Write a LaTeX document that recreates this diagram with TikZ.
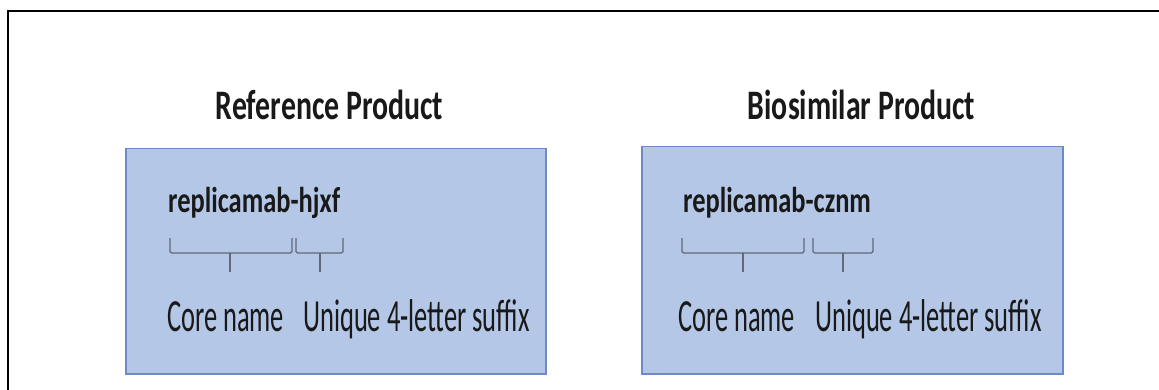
\documentclass[tikz,border=0pt]{standalone}
\usepackage{fontspec}
\setmainfont{Carlito}
\newfontfamily\titlefont[FakeStretch=0.71]{Carlito}
\newfontfamily\namefont[FakeStretch=0.735]{Carlito}
\newfontfamily\partfont[FakeStretch=0.575]{Carlito}
\usepackage{tikz}
\usetikzlibrary{positioning}

\definecolor{boxblue}{RGB}{180,199,231}
\definecolor{boxline}{RGB}{108,138,196}
\definecolor{bracegray}{RGB}{95,105,120}
\definecolor{inkgray}{RGB}{25,25,25}

\tikzset{
  prodbox/.style={rectangle, fill=boxblue, draw=boxline, line width=1.5pt,
    minimum width=420pt, minimum height=225pt, anchor=north west, inner sep=0pt},
  titletext/.style={font=\titlefont\bfseries\fontsize{42}{44}\selectfont,
    text=inkgray, inner sep=0pt, anchor=base},
  nametext/.style={font=\namefont\bfseries\fontsize{36}{38}\selectfont,
    text=inkgray, inner sep=0pt, anchor=base west},
  parttext/.style={font=\partfont\fontsize{46}{48}\selectfont,
    text=inkgray, inner sep=0pt, anchor=base west},
  bracket/.style={draw=bracegray, line width=1.2pt, rounded corners=1.5pt},
}

\begin{document}
\begin{tikzpicture}[x=1pt, y=-1pt]
\useasboundingbox (0,0) rectangle (1159,390);

% frame
\draw[line width=2.8pt] (1159,11) -- (8,11) -- (8,390);

% reference product
 \node[prodbox] (refbox) at (125,148) {};
 \node[titletext] (reftitle) at (329.5,120) {Reference Product};
 \node[nametext] (refname) at (168,213) {replicamab-hjxf};
 \draw[bracket] (170,238) -- (170,253) -- (292,253) -- (292,238);
 \draw[bracket] (230,253) -- (230,272);
 \draw[bracket] (296,238) -- (296,253) -- (343,253) -- (343,238);
 \draw[bracket] (320,253) -- (320,272);
 \node[parttext] (refcore) at (167,331) {Core name};
 \node[parttext] (refsuffix) at (303,331) {Unique 4-letter suffix};

% biosimilar product
 \node[prodbox, minimum width=421pt, minimum height=227pt] (biobox) at (641,146) {};
 \node[titletext] (biotitle) at (861.5,120) {Biosimilar Product};
 \node[nametext] (bioname) at (683,213) {replicamab-cznm};
 \draw[bracket] (682,238) -- (682,253) -- (804,253) -- (804,238);
 \draw[bracket] (743,253) -- (743,272);
 \draw[bracket] (813,238) -- (813,253) -- (873,253) -- (873,238);
 \draw[bracket] (843,253) -- (843,272);
 \node[parttext] (biocore) at (678,331) {Core name};
 \node[parttext] (biosuffix) at (815,331) {Unique 4-letter suffix};

\end{tikzpicture}
\end{document}
